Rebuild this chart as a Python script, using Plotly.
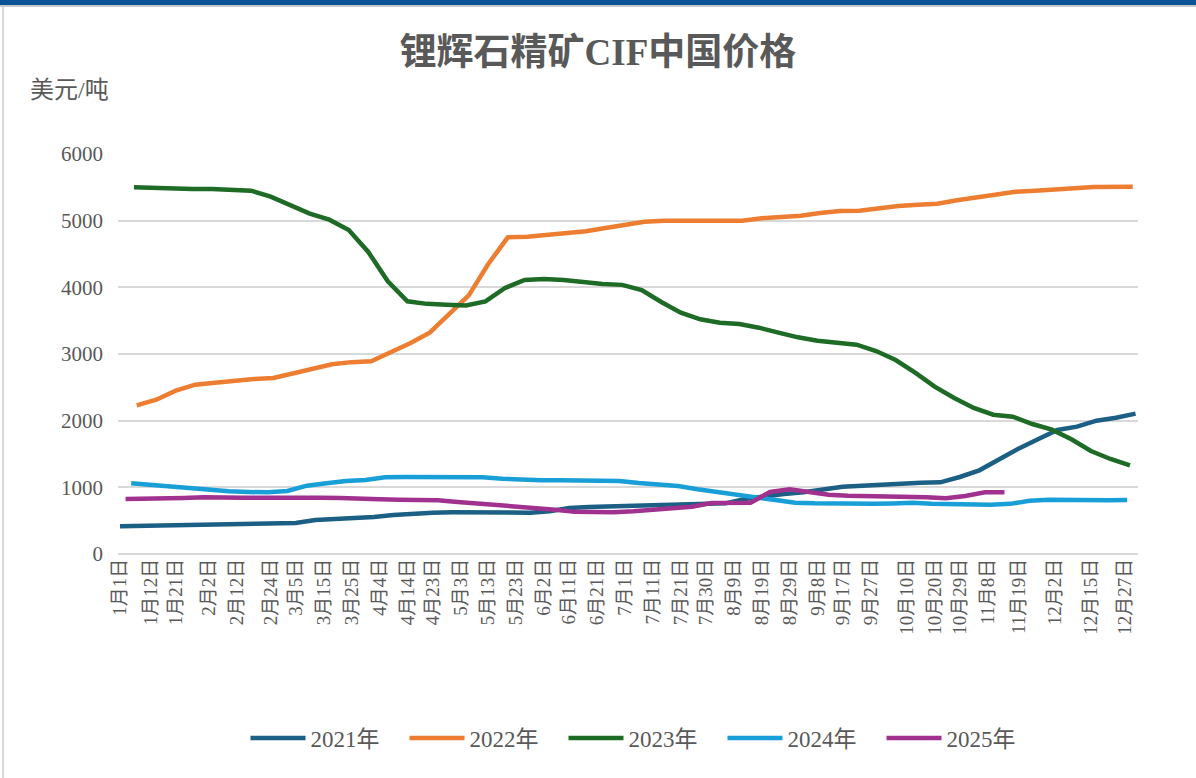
import pandas as pd
import plotly.graph_objects as go

# x-axis tick labels (category labels shown in the chart)
tick_labels = ["1月1日", "1月12日", "1月21日", "2月2日", "2月12日", "2月24日", "3月5日", "3月15日",
               "3月25日", "4月4日", "4月14日", "4月23日", "5月3日", "5月13日", "5月23日", "6月2日",
               "6月11日", "6月21日", "7月1日", "7月11日", "7月21日", "7月30日", "8月9日", "8月19日",
               "8月29日", "9月8日", "9月17日", "9月27日", "10月10日", "10月20日", "10月29日", "11月8日",
               "11月19日", "12月2日", "12月15日", "12月27日"]

# weekly prices, USD/t (first observation date of each year)
start_2021 = "2021-01-01"
vals_2021 = [415, 420, 423, 428, 435, 445, 455, 460, 462, 465,
             510, 520, 535, 555, 585, 610, 620, 625, 625, 625,
             620, 620, 640, 690, 705, 715, 715, 720, 740, 745,
             752, 760, 825, 865, 900, 925, 970, 1010, 1025, 1040,
             1065, 1070, 1075, 1155, 1255, 1420, 1580, 1720, 1860, 1910,
             2000, 2045, 2105]

start_2022 = "2022-01-07"
vals_2022 = [2230, 2315, 2450, 2540, 2570, 2600, 2625, 2640, 2710, 2790,
             2845, 2878, 2890, 3025, 3160, 3320, 3590, 3880, 4350, 4750,
             4760, 4790, 4810, 4840, 4890, 4945, 4985, 5000, 5000, 5000,
             5000, 5000, 5035, 5050, 5075, 5115, 5145, 5150, 5190, 5220,
             5240, 5255, 5305, 5345, 5395, 5435, 5450, 5460, 5485, 5505,
             5510, 5510]

start_2023 = "2023-01-06"
vals_2023 = [5500, 5490, 5478, 5475, 5475, 5470, 5450, 5360, 5225, 5105,
             5015, 4860, 4530, 4090, 3790, 3752, 3737, 3727, 3790, 3990,
             4110, 4125, 4110, 4075, 4050, 4037, 3960, 3780, 3620, 3520,
             3470, 3450, 3395, 3320, 3250, 3200, 3175, 3140, 3045, 2910,
             2720, 2510, 2340, 2190, 2090, 2060, 1950, 1865, 1720, 1545,
             1425, 1330]

start_2024 = "2024-01-05"
vals_2024 = [1060, 1035, 1015, 990, 950, 940, 930, 925, 945, 1025,
             1060, 1095, 1110, 1150, 1155, 1155, 1155, 1155, 1150, 1130,
             1110, 1105, 1105, 1100, 1100, 1095, 1065, 1045, 1020, 970,
             930, 875, 840, 800, 770, 760, 755, 750, 752, 758,
             768, 755, 745, 737, 740, 752, 798, 815, 810, 800,
             805, 810]

start_2025 = "2025-01-03"
vals_2025 = [825, 825, 832, 840, 850, 842, 842, 845, 848, 850,
             845, 840, 825, 820, 815, 815, 807, 780, 760, 730,
             705, 692, 665, 632, 627, 628, 640, 660, 685, 710,
             765, 765, 770, 930, 970, 930, 890, 872, 870, 865,
             860, 850, 835, 870, 925, 925]

colors = ["#1B5F85", "#ED7D31", "#1D6B25", "#199FD7", "#A0318F"]
names = ["2021年", "2022年", "2023年", "2024年", "2025年"]

FONT = "Liberation Serif, Times New Roman, Noto Sans CJK SC, serif"
GREY = "#595959"

# common (month-day) axis: put every year onto 2021 calendar
BASE = pd.Timestamp("2021-01-01")


def to_axis(start, n):
    dates = pd.date_range(start, periods=n, freq="7D")
    year_start = pd.Timestamp(dates[0].year, 1, 1)
    return BASE + (dates - year_start)


tick_dates = []
for lab in tick_labels:
    m, d = lab.replace("日", "").split("月")
    tick_dates.append(pd.Timestamp(2021, int(m), int(d)))

fig = go.Figure()
series = [(start_2021, vals_2021), (start_2022, vals_2022), (start_2023, vals_2023),
          (start_2024, vals_2024), (start_2025, vals_2025)]
for (start, vals), name, col in zip(series, names, colors):
    fig.add_trace(go.Scatter(x=to_axis(start, len(vals)), y=vals, mode="lines", name=name,
                             line=dict(color=col, width=4.5)))

# plot area 118..1138 px wide, 154..554 px tall
L, R, T, B = 118, 58, 154, 224
pw, ph = 1196 - L - R, 778 - T - B


def px(x):
    return (x - L) / pw


def py(y):
    return (778 - B - y) / ph


fig.update_layout(
    width=1196, height=778,
    margin=dict(l=L, r=R, t=T, b=B),
    paper_bgcolor="white", plot_bgcolor="white",
    font=dict(family=FONT, color=GREY),
    title=dict(text="<b>锂辉石精矿CIF中国价格</b>", x=0.5, xanchor="center",
               yref="container", y=1 - 52 / 778, yanchor="middle",
               font=dict(size=37, color=GREY, family=FONT)),
    showlegend=True,
    legend=dict(orientation="h", x=px(643), xanchor="center", y=py(738), yanchor="middle",
                font=dict(size=23, color=GREY, family=FONT), itemwidth=55,
                entrywidth=89, bgcolor="rgba(0,0,0,0)"),
    xaxis=dict(type="date", range=["2020-12-31 06:45", "2021-12-31 21:00"],
               tickmode="array", tickvals=tick_dates, ticktext=tick_labels,
               tickangle=-90, tickfont=dict(size=19, color=GREY, family=FONT),
               showgrid=False, showline=False, zeroline=False, ticks=""),
    yaxis=dict(range=[0, 6000], dtick=1000, showgrid=True, gridcolor="#D9D9D9", gridwidth=1.5,
               zeroline=True, zerolinecolor="#D9D9D9", zerolinewidth=1.5, showline=False,
               tickfont=dict(size=21, color=GREY, family=FONT), ticklabelstandoff=14,
               tickformat="d"),
    annotations=[dict(text="美元/吨", xref="paper", yref="paper", x=px(28), y=py(90),
                      xanchor="left", yanchor="middle", showarrow=False,
                      font=dict(size=24, color=GREY, family=FONT))],
    shapes=[
        dict(type="rect", xref="paper", yref="paper", x0=px(0), x1=px(1196), y0=py(7), y1=py(5),
             fillcolor="#C8C8C8", line=dict(width=0), layer="above"),
        dict(type="rect", xref="paper", yref="paper", x0=px(0), x1=px(1196), y0=py(5), y1=py(0),
             fillcolor="#0B5195", line=dict(width=0), layer="above"),
        dict(type="line", xref="paper", yref="paper", x0=px(3), x1=px(3), y0=py(778), y1=py(7),
             line=dict(color="#D9D9D9", width=2)),
    ],
)

# drop the browser's default body margin so the figure sits at the page origin
fig.write_html("out.html", config={"displayModeBar": False},
               post_script="document.body.style.margin='0';")
